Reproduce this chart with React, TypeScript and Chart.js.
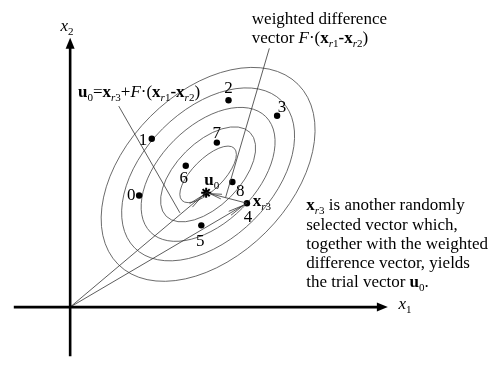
import React, { useEffect, useRef } from 'react';
import { Chart, registerables } from 'chart.js';

Chart.register(...registerables);

const W = 492;
const H = 367;

// Diagram coordinates: origin of the x1/x2 axes is (0,0)
const xMin = -65;
const xMax = 427;
const yMin = -55;
const yMax = 312;

// Population members 0..8
const popLabels = ['0', '1', '2', '3', '4', '5', '6', '7', '8'];
const popX = [71, 84, 163, 213, 182, 135, 119, 151, 167];
const popY = [116, 175, 215, 199, 108, 85, 147, 171, 130];
const popLabelX = [63, 75, 163, 218, 183, 134, 117, 151, 175];
const popLabelY = [111, 169, 223, 203, 88, 64, 129, 176, 116];

// Trial vector u0 and base vector x_r3 (member 4)
const trialX = 140;
const trialY = 119;
const baseIndex = 4;

// Contour ellipses
const ellipseCX = 142;
const ellipseCY = 138;
const ellipseA = [38, 61, 84, 107, 131];
const ellipseB = [16, 33, 50, 67, 85];
const ellipseAngleDeg = 45;

// Axes
const axisXFrom = -58;
const axisXTip = 327;
const axisYFrom = -51;
const axisYTip = 280;

// Leader lines [x1, y1, x2, y2]
const leader1 = [50, 209, 113, 98];
const leader2 = [205, 269, 160, 114];

type Seg = { t: string; b?: boolean; i?: boolean; s?: boolean };

const FONT = '"Liberation Serif", "Times New Roman", serif';
const FS = 17;

const formulaSegs: Seg[] = [
  { t: 'u', b: true }, { t: '0', s: true }, { t: '=' },
  { t: 'x', b: true }, { t: 'r', s: true, i: true }, { t: '3', s: true },
  { t: '+' }, { t: 'F', i: true }, { t: '·(' },
  { t: 'x', b: true }, { t: 'r', s: true, i: true }, { t: '1', s: true },
  { t: '-', b: true },
  { t: 'x', b: true }, { t: 'r', s: true, i: true }, { t: '2', s: true },
  { t: ')' },
];
const weightedLine1: Seg[] = [{ t: 'weighted difference' }];
const weightedLine2: Seg[] = [
  { t: 'vector ' }, { t: 'F', i: true }, { t: '·(' },
  { t: 'x', b: true }, { t: 'r', s: true, i: true }, { t: '1', s: true },
  { t: '-', b: true },
  { t: 'x', b: true }, { t: 'r', s: true, i: true }, { t: '2', s: true },
  { t: ')' },
];
const noteLines: Seg[][] = [
  [{ t: 'x', b: true }, { t: 'r', s: true, i: true }, { t: '3', s: true }, { t: ' is another randomly' }],
  [{ t: 'selected vector which,' }],
  [{ t: 'together with the weighted' }],
  [{ t: 'difference vector, yields' }],
  [{ t: 'the trial vector ' }, { t: 'u', b: true }, { t: '0', s: true }, { t: '.' }],
];
const noteX = 243;
const noteY = [101, 80.5, 60.5, 40.5, 21];

const u0Label: Seg[] = [{ t: 'u', b: true }, { t: '0', s: true }];
const xr3Label: Seg[] = [{ t: 'x', b: true }, { t: 'r', s: true, i: true }, { t: '3', s: true }];
const x1Label: Seg[] = [{ t: 'x', i: true }, { t: '1', s: true }];
const x2Label: Seg[] = [{ t: 'x', i: true }, { t: '2', s: true }];

function drawRich(ctx: CanvasRenderingContext2D, x: number, y: number, segs: Seg[], size: number) {
  let cx = x;
  ctx.textAlign = 'left';
  ctx.textBaseline = 'alphabetic';
  for (const sg of segs) {
    const fs = sg.s ? size * 0.65 : size;
    ctx.font = `${sg.i ? 'italic ' : ''}${sg.b ? 'bold ' : ''}${fs}px ${FONT}`;
    const dy = sg.s ? size * 0.24 : 0;
    ctx.fillText(sg.t, cx, y + dy);
    cx += ctx.measureText(sg.t).width;
  }
}

function openArrow(ctx: CanvasRenderingContext2D, fx: number, fy: number, tx: number, ty: number, back: number, len: number, halfAngle: number) {
  const ang = Math.atan2(ty - fy, tx - fx);
  const px = tx - back * Math.cos(ang);
  const py = ty - back * Math.sin(ang);
  ctx.beginPath();
  ctx.moveTo(px - len * Math.cos(ang - halfAngle), py - len * Math.sin(ang - halfAngle));
  ctx.lineTo(px, py);
  ctx.lineTo(px - len * Math.cos(ang + halfAngle), py - len * Math.sin(ang + halfAngle));
  ctx.stroke();
}

function filledArrow(ctx: CanvasRenderingContext2D, fx: number, fy: number, tx: number, ty: number, len: number, half: number) {
  const ang = Math.atan2(ty - fy, tx - fx);
  const bx = tx - len * Math.cos(ang);
  const by = ty - len * Math.sin(ang);
  ctx.beginPath();
  ctx.moveTo(tx, ty);
  ctx.lineTo(bx + half * Math.sin(ang), by - half * Math.cos(ang));
  ctx.lineTo(bx - half * Math.sin(ang), by + half * Math.cos(ang));
  ctx.closePath();
  ctx.fill();
}

const diagramPlugin = {
  id: 'diagram',
  beforeDatasetsDraw(chart: any) {
    const { ctx, scales } = chart;
    const sx = scales.x;
    const sy = scales.y;
    ctx.save();
    ctx.strokeStyle = '#5a5a5a';
    ctx.lineWidth = 0.9;
    const cx = sx.getPixelForValue(ellipseCX);
    const cy = sy.getPixelForValue(ellipseCY);
    ellipseA.forEach((a, k) => {
      const rx = sx.getPixelForValue(ellipseCX + a) - cx;
      const ry = cy - sy.getPixelForValue(ellipseCY + ellipseB[k]);
      ctx.beginPath();
      ctx.ellipse(cx, cy, rx, ry, (-ellipseAngleDeg * Math.PI) / 180, 0, Math.PI * 2);
      ctx.stroke();
    });
    ctx.restore();
  },
  afterDatasetsDraw(chart: any) {
    const { ctx, scales } = chart;
    const sx = scales.x;
    const sy = scales.y;
    const X = (v: number) => sx.getPixelForValue(v);
    const Y = (v: number) => sy.getPixelForValue(v);
    ctx.save();
    // axis arrowheads
    ctx.fillStyle = '#000';
    filledArrow(ctx, X(0), Y(0), X(axisXTip), Y(0), 11, 4.5);
    filledArrow(ctx, X(0), Y(0), X(0), Y(axisYTip), 11, 4.5);
    // vector arrowheads
    ctx.strokeStyle = '#333';
    ctx.lineWidth = 0.8;
    const bx = popX[baseIndex];
    const by = popY[baseIndex];
    openArrow(ctx, X(0), Y(0), X(trialX), Y(trialY), 4, 16, 0.14);
    openArrow(ctx, X(0), Y(0), X(bx), Y(by), 4, 16, 0.14);
    openArrow(ctx, X(bx), Y(by), X(trialX), Y(trialY), 4, 12, 0.2);

    // texts
    ctx.fillStyle = '#000';
    ctx.font = `${FS}px ${FONT}`;
    ctx.textAlign = 'center';
    ctx.textBaseline = 'alphabetic';
    popLabels.forEach((l, k) => {
      ctx.font = `${FS}px ${FONT}`;
      ctx.textAlign = 'center';
      ctx.fillText(l, X(popLabelX[k]), Y(popLabelY[k]));
    });
    drawRich(ctx, X(138), Y(127), u0Label, FS);
    drawRich(ctx, X(188), Y(105), xr3Label, FS);
    drawRich(ctx, X(8), Y(218), formulaSegs, FS);
    drawRich(ctx, X(187), Y(294), weightedLine1, FS);
    drawRich(ctx, X(187), Y(275), weightedLine2, FS);
    noteLines.forEach((segs, k) => drawRich(ctx, X(noteX), Y(noteY[k]), segs, FS));
    drawRich(ctx, X(338), Y(-2), x1Label, FS);
    drawRich(ctx, X(-10), Y(287), x2Label, FS);
    ctx.restore();
  },
};

function lineDs(pts: { x: number; y: number }[], width: number, color: string) {
  return {
    data: pts,
    showLine: true,
    borderColor: color,
    borderWidth: width,
    pointRadius: 0,
    fill: false,
  } as any;
}

export default function App() {
  const ref = useRef<HTMLCanvasElement>(null);
  useEffect(() => {
    document.body.style.margin = '0';
    const bx = popX[baseIndex];
    const by = popY[baseIndex];
    const chart = new Chart(ref.current!, {
      type: 'scatter',
      data: {
        datasets: [
          lineDs([{ x: axisXFrom, y: 0 }, { x: axisXTip - 8, y: 0 }], 2.6, '#000'),
          lineDs([{ x: 0, y: axisYFrom }, { x: 0, y: axisYTip - 8 }], 2.6, '#000'),
          lineDs([{ x: 0, y: 0 }, { x: trialX, y: trialY }], 0.8, '#333'),
          lineDs([{ x: 0, y: 0 }, { x: bx, y: by }], 0.8, '#333'),
          lineDs([{ x: bx, y: by }, { x: trialX, y: trialY }], 0.8, '#333'),
          lineDs([{ x: leader1[0], y: leader1[1] }, { x: leader1[2], y: leader1[3] }], 0.8, '#333'),
          lineDs([{ x: leader2[0], y: leader2[1] }, { x: leader2[2], y: leader2[3] }], 0.8, '#333'),
          {
            data: popX.map((x, k) => ({ x, y: popY[k] })),
            pointRadius: 3.2,
            pointBackgroundColor: '#000',
            pointBorderWidth: 0,
            showLine: false,
          } as any,
          {
            data: [{ x: trialX, y: trialY }],
            pointStyle: 'star',
            pointRadius: 5,
            pointBorderColor: '#000',
            pointBorderWidth: 2,
            showLine: false,
          } as any,
        ],
      },
      options: {
        responsive: false,
        maintainAspectRatio: false,
        animation: false,
        events: [],
        layout: { padding: 0 },
        scales: {
          x: { type: 'linear', min: xMin, max: xMax, display: false },
          y: { type: 'linear', min: yMin, max: yMax, display: false },
        },
        plugins: { legend: { display: false }, tooltip: { enabled: false } },
      },
      plugins: [diagramPlugin],
    });
    return () => chart.destroy();
  }, []);
  return <canvas ref={ref} width={W} height={H} style={{ display: 'block', width: W, height: H }} />;
}
